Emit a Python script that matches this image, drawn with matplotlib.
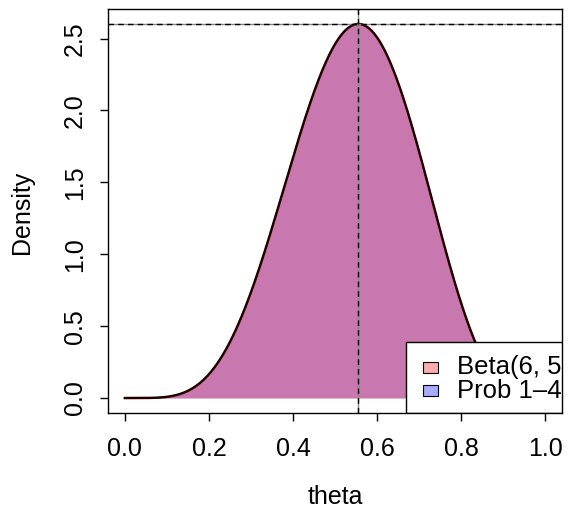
import numpy as np
import matplotlib
matplotlib.use('Agg')
import matplotlib.pyplot as plt
from matplotlib.patches import Rectangle
from math import gamma

plt.rcParams['font.family'] = ['Liberation Sans', 'DejaVu Sans']

# Beta prior parameters and plot settings
alpha_par = 6
beta_par = 5
legend_labels = ['Beta(6, 5)', 'Prob 1\u20134']
legend_colors = ['#FFAAAA', '#AAAAFF']
fill_color = '#C878AE'
x_ticks = [0.0, 0.2, 0.4, 0.6, 0.8, 1.0]
y_ticks = [0.0, 0.5, 1.0, 1.5, 2.0, 2.5]

theta = np.linspace(0, 1, 501)
norm = gamma(alpha_par + beta_par) / (gamma(alpha_par) * gamma(beta_par))
dens = norm * theta**(alpha_par - 1) * (1 - theta)**(beta_par - 1)
mode = (alpha_par - 1) / (alpha_par + beta_par - 2)
peak = norm * mode**(alpha_par - 1) * (1 - mode)**(beta_par - 1)

W, H = 568, 511
AX_L, AX_R, AX_T, AX_B = 108, 562, 9, 413
fig = plt.figure(figsize=(W / 100, H / 100), dpi=100)
ax = fig.add_axes([AX_L / W, (H - AX_B) / H, (AX_R - AX_L) / W, (AX_B - AX_T) / H])

ax.fill_between(theta, 0, dens, color=fill_color, lw=0)
ax.plot(theta, dens, color='#5a0000', lw=1.8)
ax.plot(theta, dens, color='black', lw=1.0)

# reference lines at the mode and peak height
ax.axhline(peak, color='#888888', lw=1.0)
ax.axhline(peak, color='black', lw=1.0, ls=(0, (4, 3)))
ax.axvline(mode, color='#888888', lw=1.0)
ax.axvline(mode, color='black', lw=1.0, ls=(0, (4, 3)))

ax.set_xlim(-0.04, 1.04)
ax.set_ylim(-0.04 * peak, 1.04 * peak)
ax.set_xticks(x_ticks)
ax.set_xticklabels([f'{v:.1f}' for v in x_ticks])
ax.set_yticks(y_ticks)
ax.set_yticklabels([f'{v:.1f}' for v in y_ticks], rotation=90, va='center')
ax.tick_params(labelsize=18, length=6, width=1, pad=11)
ax.tick_params(axis='y', pad=9)
for s in ax.spines.values():
    s.set_linewidth(1)
    s.set_zorder(5)

fig.text(22 / W, 1 - 212 / H, 'Density', rotation=90, ha='center', va='center', fontsize=18)
fig.text(335 / W, 1 - 497 / H, 'theta', ha='center', va='center', fontsize=18)


# legend box, clipped to the plotting region
def ax_xy(px, py):
    return (px - AX_L) / (AX_R - AX_L), (AX_B - py) / (AX_B - AX_T)


fx, fy = ax_xy(406, 342)
ax.add_patch(Rectangle((fx, 0), 1.2 - fx, fy, transform=ax.transAxes,
                       facecolor='white', edgecolor='black', lw=1, zorder=4, clip_on=True))
for i, (lab, col) in enumerate(zip(legend_labels, legend_colors)):
    top = 362 + 23.3 * i
    sx, sy = ax_xy(423, top + 11)
    sx2, sy2 = ax_xy(438, top)
    ax.add_patch(Rectangle((sx, sy), sx2 - sx, sy2 - sy, transform=ax.transAxes,
                           facecolor=col, edgecolor='black', lw=0.8, zorder=4.5))
    tx, ty = ax_xy(457, 374.3 + 23.3 * i)
    ax.text(tx, ty, lab, transform=ax.transAxes, fontsize=18.5, va='baseline',
            ha='left', zorder=4.5, clip_on=True)

fig.savefig('out.png', dpi=100)
